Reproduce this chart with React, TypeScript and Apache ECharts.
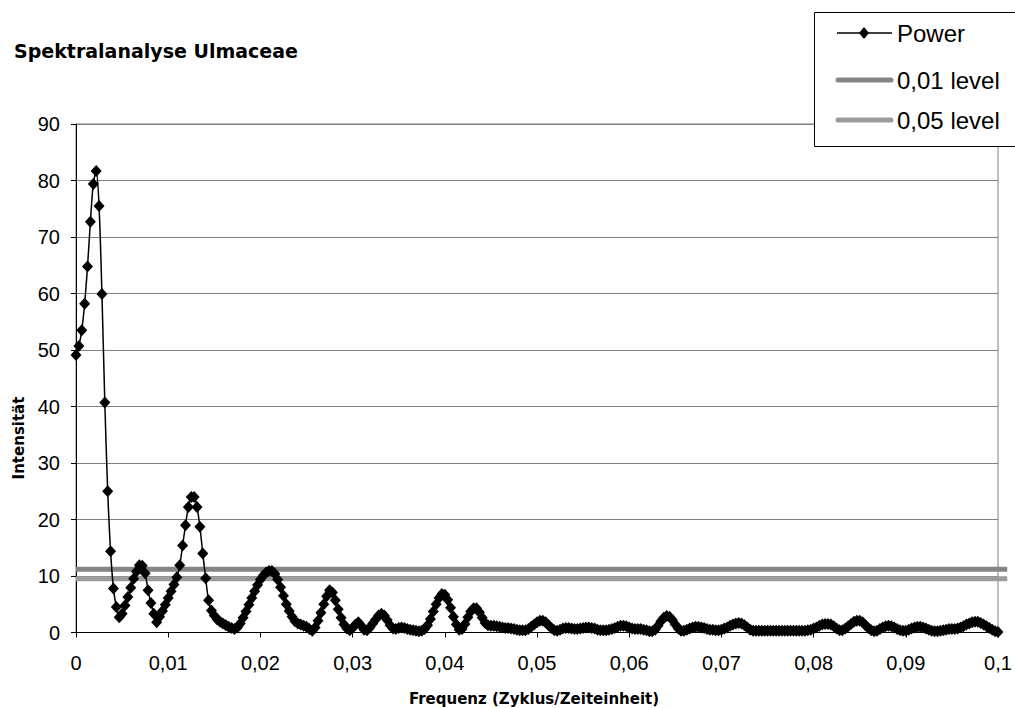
import React, { useEffect, useRef } from "react";
import * as echarts from "echarts";

// Frequency step between spectral estimates (0 … 0.1)
const freqStep = 0.0003125;

// Power values, one per frequency step
const power = [
  49.1, 50.7, 53.5, 58.2, 64.8, 72.7, 79.4, 81.7, 75.5, 59.9,
  40.7, 25.0, 14.4, 7.8, 4.5, 2.7, 3.3, 4.8, 6.3, 7.9,
  9.5, 10.8, 11.9, 11.8, 10.5, 7.5, 5.2, 3.3, 1.8, 2.8,
  3.8, 4.9, 6.1, 7.3, 8.5, 9.8, 11.9, 15.4, 19.0, 22.2,
  24.0, 24.0, 22.2, 18.7, 14.0, 9.6, 5.7, 3.9, 3.0, 2.3,
  1.9, 1.6, 1.3, 1.0, 0.8, 0.6, 0.9, 1.6, 2.6, 3.7,
  4.9, 6.1, 7.3, 8.4, 9.4, 10.1, 10.6, 10.9, 10.9, 10.4,
  9.4, 8.0, 6.5, 5.0, 3.8, 2.8, 2.0, 1.6, 1.4, 1.2,
  1.0, 0.6, 0.3, 0.9, 2.1, 3.5, 5.0, 6.4, 7.5, 7.1,
  5.7, 4.1, 2.6, 1.4, 0.7, 0.4, 0.8, 1.4, 1.8, 1.2,
  0.5, 0.4, 0.9, 1.6, 2.3, 3.0, 3.3, 3.0, 2.2, 1.3,
  0.7, 0.6, 0.8, 0.9, 0.8, 0.6, 0.5, 0.4, 0.3, 0.2,
  0.3, 0.6, 1.3, 2.4, 3.7, 5.0, 6.1, 6.8, 6.7, 5.8,
  4.4, 2.8, 1.4, 0.5, 0.6, 1.5, 2.7, 3.7, 4.3, 4.3,
  3.6, 2.6, 1.7, 1.3, 1.2, 1.2, 1.1, 1.0, 0.9, 0.8,
  0.8, 0.7, 0.6, 0.5, 0.4, 0.4, 0.4, 0.6, 1.0, 1.4,
  1.8, 2.1, 2.1, 1.8, 1.3, 0.8, 0.4, 0.3, 0.5, 0.7,
  0.8, 0.8, 0.7, 0.6, 0.6, 0.7, 0.8, 0.9, 0.9, 0.8,
  0.7, 0.5, 0.4, 0.4, 0.4, 0.5, 0.6, 0.8, 1.0, 1.2,
  1.2, 1.1, 0.9, 0.7, 0.6, 0.6, 0.6, 0.5, 0.4, 0.2,
  0.2, 0.5, 1.2, 2.0, 2.6, 2.9, 2.8, 2.2, 1.4, 0.7,
  0.3, 0.3, 0.5, 0.7, 0.9, 1.0, 1.0, 0.9, 0.8, 0.6,
  0.5, 0.5, 0.4, 0.4, 0.5, 0.7, 0.9, 1.2, 1.4, 1.6,
  1.7, 1.6, 1.3, 0.9, 0.5, 0.3, 0.3, 0.3, 0.3, 0.3,
  0.3, 0.3, 0.3, 0.3, 0.3, 0.3, 0.3, 0.3, 0.3, 0.3,
  0.3, 0.3, 0.3, 0.3, 0.4, 0.5, 0.7, 0.9, 1.2, 1.4,
  1.5, 1.5, 1.4, 1.1, 0.7, 0.4, 0.4, 0.7, 1.1, 1.5,
  1.9, 2.1, 2.1, 1.8, 1.3, 0.8, 0.4, 0.2, 0.3, 0.6,
  0.9, 1.1, 1.2, 1.1, 0.9, 0.6, 0.4, 0.3, 0.3, 0.5,
  0.7, 0.9, 1.0, 1.0, 0.9, 0.7, 0.5, 0.3, 0.2, 0.2,
  0.3, 0.4, 0.5, 0.6, 0.6, 0.6, 0.7, 0.9, 1.1, 1.4,
  1.6, 1.8, 1.9, 1.9, 1.7, 1.4, 1.1, 0.8, 0.5, 0.2,
  0.1,
];

// Significance levels and the frequency span they are drawn over
const level01 = 11.2;
const level05 = 9.5;
const levelRange = [0, 0.101];

const xTickLabels = ["0", "0,01", "0,02", "0,03", "0,04", "0,05", "0,06", "0,07", "0,08", "0,09", "0,1"];
const yTickLabels = ["0", "10", "20", "30", "40", "50", "60", "70", "80", "90"];

const legendNames = ["Power", "0,01 level", "0,05 level"];
const titleText = "Spektralanalyse Ulmaceae";
const xName = "Frequenz (Zyklus/Zeiteinheit)";
const yName = "Intensität";

const LABEL_FONT = "'Liberation Sans', Arial, sans-serif";
const BOLD_FONT = "'DejaVu Sans', Arial, sans-serif";
const C01 = "#858585";
const C05 = "#9c9c9c";

export default function App() {
  const ref = useRef<HTMLDivElement>(null);

  useEffect(() => {
    if (!ref.current) return;
    const chart = echarts.init(ref.current, null, { renderer: "svg" });

    const powerData = power.map((v, i) => [i * freqStep, v]);

    const option: any = {
      animation: false,
      backgroundColor: "#ffffff",
      grid: {
        left: 76,
        right: 17,
        top: 124,
        bottom: 75.5,
        show: true,
        borderColor: "#808080",
        borderWidth: 1,
        backgroundColor: "transparent",
      },
      xAxis: {
        type: "value",
        min: 0,
        max: 0.1,
        interval: 0.01,
        axisLine: { show: true, onZero: false, lineStyle: { color: "#000", width: 1 } },
        axisTick: { show: true, length: 5, lineStyle: { color: "#000" } },
        splitLine: { show: false },
        axisLabel: {
          color: "#000",
          fontSize: 20,
          fontFamily: LABEL_FONT,
          margin: 20,
          formatter: (v: number) => xTickLabels[Math.round(v * 100)] ?? "",
        },
      },
      yAxis: {
        type: "value",
        min: 0,
        max: 90,
        interval: 10,
        axisLine: { show: true, lineStyle: { color: "#000", width: 1 } },
        axisTick: { show: true, length: 5, lineStyle: { color: "#000" } },
        splitLine: { show: true, lineStyle: { color: "#808080", width: 1 } },
        axisLabel: {
          color: "#000",
          fontSize: 20,
          fontFamily: LABEL_FONT,
          margin: 16,
          formatter: (v: number) => yTickLabels[Math.round(v / 10)] ?? "",
        },
      },
      series: [
        {
          name: legendNames[0],
          type: "line",
          data: powerData,
          symbol: "diamond",
          symbolSize: [11, 12],
          smooth: 0.3,
          clip: false,
          itemStyle: { color: "#000" },
          lineStyle: { color: "#000", width: 1.5 },
          z: 3,
        },
      ],
    };

    chart.setOption(option);

    // significance levels, positioned through the chart's own scales
    const levelLine = (value: number, color: string) => {
      const a = chart.convertToPixel({ gridIndex: 0 }, [levelRange[0], value]) as number[];
      const b = chart.convertToPixel({ gridIndex: 0 }, [levelRange[1], value]) as number[];
      return {
        type: "line",
        z: 1,
        silent: true,
        shape: { x1: a[0], y1: a[1], x2: b[0], y2: b[1] },
        style: { stroke: color, lineWidth: 5 },
      };
    };

    chart.setOption({
      graphic: [
        levelLine(level01, C01),
        levelLine(level05, C05),
        {
          type: "text",
          x: 14,
          y: 51,
          z: 100,
          style: {
            text: titleText,
            font: `bold 19px ${BOLD_FONT}`,
            fill: "#000",
            textAlign: "left",
            textVerticalAlign: "middle",
          },
        },
        {
          type: "text",
          x: 534,
          y: 699,
          z: 100,
          style: {
            text: xName,
            font: `bold 15px ${BOLD_FONT}`,
            fill: "#000",
            textAlign: "center",
            textVerticalAlign: "middle",
          },
        },
        {
          type: "text",
          x: 19,
          y: 438,
          rotation: Math.PI / 2,
          z: 100,
          style: {
            text: yName,
            font: `bold 15px ${BOLD_FONT}`,
            fill: "#000",
            textAlign: "center",
            textVerticalAlign: "middle",
          },
        },
        // legend box
        {
          type: "rect",
          z: 100,
          shape: { x: 814.5, y: 12.5, width: 240, height: 134 },
          style: { fill: "#fff", stroke: "#000", lineWidth: 1 },
        },
        {
          type: "line",
          z: 101,
          shape: { x1: 837, y1: 33, x2: 892, y2: 33 },
          style: { stroke: "#000", lineWidth: 1.5 },
        },
        {
          type: "polygon",
          z: 102,
          shape: { points: [[864, 27], [869, 33], [864, 39], [859, 33]] },
          style: { fill: "#000" },
        },
        {
          type: "line",
          z: 101,
          shape: { x1: 838, y1: 80, x2: 891, y2: 80 },
          style: { stroke: C01, lineWidth: 5, lineCap: "round" },
        },
        {
          type: "line",
          z: 101,
          shape: { x1: 838, y1: 120, x2: 891, y2: 120 },
          style: { stroke: C05, lineWidth: 5, lineCap: "round" },
        },
        ...legendNames.map((n, i) => ({
          type: "text",
          x: 897,
          y: [33, 80, 120][i],
          z: 102,
          style: {
            text: n,
            font: `24px ${LABEL_FONT}`,
            fill: "#000",
            textAlign: "left",
            textVerticalAlign: "middle",
          },
        })),
      ],
    });

    return () => chart.dispose();
  }, []);

  return (
    <div
      ref={ref}
      style={{ position: "absolute", left: 0, top: 0, width: 1015, height: 708 }}
    />
  );
}
